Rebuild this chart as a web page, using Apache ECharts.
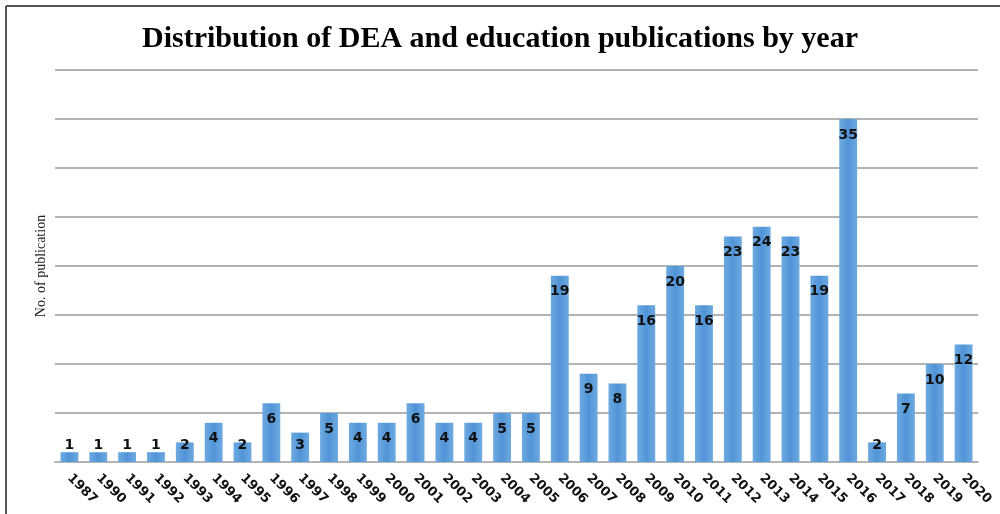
<!DOCTYPE html>
<html>
<head>
<meta charset="utf-8">
<script src="https://cdn.jsdelivr.net/npm/echarts@6/dist/echarts.min.js"></script>
<style>
html,body{margin:0;padding:0;background:#fff;}
#chart{width:1000px;height:514px;}
</style>
</head>
<body>
<div id="chart"></div>
<script>
const years = ['1987','1990','1991','1992','1993','1994','1995','1996','1997','1998','1999','2000','2001','2002','2003','2004','2005','2006','2007','2008','2009','2010','2011','2012','2013','2014','2015','2016','2017','2018','2019','2020'];
const publications = [1,1,1,1,2,4,2,6,3,5,4,4,6,4,4,5,5,19,9,8,16,20,16,23,24,23,19,35,2,7,10,12];
const titleText = 'Distribution of DEA and education publications by year';
const yAxisName = 'No. of publication';

const chart = echarts.init(document.getElementById('chart'), null, {renderer: 'canvas'});

// plot geometry: 0..40 spans 392px; short bars get their label lifted so it stays readable
const pxPerUnit = 392 / 40;
const barData = publications.map(v => {
  const lift = Math.max(0, 33 - pxPerUnit * v);
  return {value: v, label: {offset: [0, -lift]}};
});

chart.setOption({
  animation: false,
  backgroundColor: '#fff',
  title: {
    text: titleText,
    left: 'center',
    top: 19,
    textStyle: {fontFamily: 'Liberation Serif', fontSize: 30, fontWeight: 'bold', color: '#000'}
  },
  graphic: [
    {type: 'line', shape: {x1: 6, y1: 6, x2: 1020, y2: 6}, style: {stroke: '#555', lineWidth: 2}, silent: true},
    {type: 'line', shape: {x1: 6, y1: 6, x2: 6, y2: 530}, style: {stroke: '#555', lineWidth: 2}, silent: true}
  ],
  grid: {left: 55, right: 22, top: 70, bottom: 52, containLabel: false},
  xAxis: {
    type: 'category',
    data: years,
    axisTick: {show: false},
    axisLine: {show: true, lineStyle: {color: '#b3b3b3', width: 2}},
    axisLabel: {
      rotate: -45, interval: 0, margin: 14,
      fontFamily: 'DejaVu Sans', fontSize: 13, fontWeight: 'bold', color: '#111'
    }
  },
  yAxis: {
    type: 'value',
    min: 0, max: 40, interval: 5,
    name: yAxisName,
    nameLocation: 'middle',
    nameGap: 7,
    nameTextStyle: {fontFamily: 'Liberation Serif', fontSize: 14, color: '#222'},
    axisLabel: {show: false},
    axisTick: {show: false},
    axisLine: {show: false},
    splitLine: {lineStyle: {color: '#b3b3b3', width: 2}}
  },
  series: [{
    type: 'bar',
    data: barData,
    barCategoryGap: '38%',
    itemStyle: {
      color: new echarts.graphic.LinearGradient(0, 0, 1, 0, [
        {offset: 0, color: '#6eaae0'},
        {offset: 0.5, color: '#5094d8'},
        {offset: 1, color: '#6eaae0'}
      ])
    },
    label: {
      show: true,
      position: 'insideTop',
      distance: 9,
      fontFamily: 'DejaVu Sans', fontSize: 14, fontWeight: 'bold', color: '#111'
    }
  }]
});
</script>
</body>
</html>
